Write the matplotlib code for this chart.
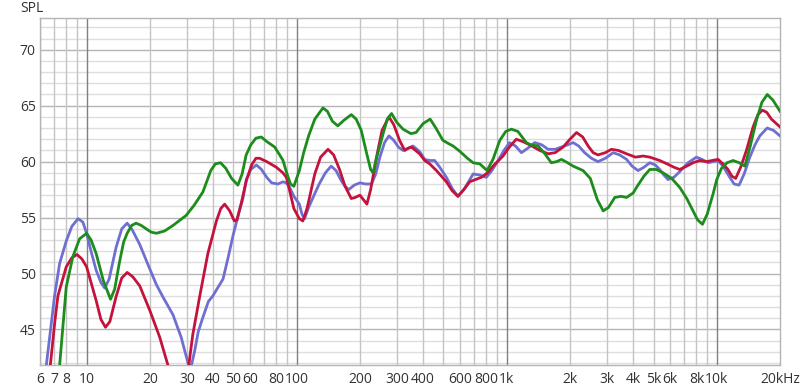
import numpy as np
import matplotlib
matplotlib.use('Agg')
import matplotlib.pyplot as plt

# frequency response (Hz, dB SPL)
blue_f = [6.0, 6.43, 7.04, 7.44, 8.0, 8.5, 9.1, 9.6, 10.0, 10.5, 11.1, 11.7, 12.2, 12.8,
          13.8, 14.7, 15.6, 16.5, 17.9, 20.0, 21.5, 23.1, 25.8, 28.2, 30.4, 31.3, 32.7,
          34.0, 35.8, 38.0, 39.9, 42.0, 44.6, 47.0, 49.8, 53.0, 55.5, 57.6, 60.5, 64.3,
          68.0, 72.0, 76.0, 81.5, 86.0, 89.3, 92.6, 97.0, 103, 106, 109, 114, 121, 128,
          137, 146, 154, 163, 170, 177, 188, 200, 213, 227, 238, 249, 262, 275, 290, 305,
          321, 340, 358, 385, 407, 430, 454, 480, 516, 550, 586, 630, 692, 745, 800, 850,
          910, 970, 1032, 1100, 1175, 1260, 1360, 1470, 1574, 1700, 1820, 1950, 2070,
          2200, 2350, 2530, 2720, 2950, 3210, 3450, 3720, 3950, 4220, 4500, 4800, 5100,
          5350, 5600, 5860, 6250, 6660, 7300, 8000, 8500, 9100, 9600, 10140, 10700,
          11530, 12100, 12770, 13500, 14370, 15200, 16030, 17370, 18600, 20000]
blue_db = [38.5, 41.8, 48.0, 50.9, 52.9, 54.2, 54.9, 54.6, 53.6, 52.0, 50.3, 49.2, 48.7, 49.5,
           52.3, 54.0, 54.5, 53.9, 52.6, 50.4, 49.0, 47.9, 46.3, 44.3, 42.0, 41.5, 43.1,
           44.8, 46.1, 47.5, 48.0, 48.7, 49.5, 51.3, 53.4, 55.4, 56.7, 58.4, 59.3, 59.7,
           59.3, 58.6, 58.1, 58.0, 58.2, 58.1, 57.7, 56.9, 56.2, 55.3, 54.9, 55.9, 57.0, 58.0,
           59.0, 59.6, 59.2, 58.3, 57.8, 57.5, 57.9, 58.1, 58.0, 58.0, 58.9, 60.4, 61.7, 62.3, 61.9, 61.3,
           61.0, 61.2, 61.4, 60.9, 60.2, 60.1, 60.1, 59.5, 58.6, 57.6, 56.9, 57.6, 58.9, 58.8, 58.6, 59.2,
           60.1, 61.0, 61.7, 61.4, 60.8, 61.2, 61.7, 61.5, 61.1, 61.1, 61.3, 61.5, 61.7,
           61.4, 60.8, 60.3, 60.0, 60.3, 60.8, 60.6, 60.2, 59.6, 59.2, 59.5, 59.9, 59.7,
           59.3, 58.8, 58.4, 58.6, 59.1, 59.9, 60.4, 60.2, 59.9, 60.0, 60.1, 59.6,
           58.6, 58.0, 57.9, 58.9, 60.4, 61.5, 62.3, 63.0, 62.8, 62.3]

red_f = [6.3, 6.72, 7.04, 7.3, 8.0, 8.5, 9.0, 9.5, 10.0, 10.5, 11.1, 11.7, 12.3, 12.9, 13.8,
         14.7, 15.6, 16.6, 17.9, 20.0, 22.3, 24.4, 27.0, 29.0, 30.5, 32.0, 34.5, 37.8, 41.5,
         43.5, 45.4, 48.0, 50.5, 52.0, 54.5, 57.6, 61.0, 64.0, 66.6, 72.0, 80.0, 86.0, 89.3,
         92.6, 97.0, 103, 107, 112, 122, 130, 141, 150, 160, 170, 182, 190, 200, 208, 216,
         225, 240, 255, 275, 290, 309, 327, 340, 352, 385, 407, 430, 463, 516, 550, 586,
         625, 667, 710, 758, 810, 861, 960, 1030, 1110, 1190, 1288, 1436, 1574, 1700, 1855,
         2000, 2150, 2300, 2440, 2580, 2720, 2950, 3150, 3400, 3720, 4100, 4460, 4800, 5350,
         5800, 6250, 6660, 7200, 7710, 8300, 8930, 9500, 10140, 10700, 11300, 11800, 12300,
         13000, 13840, 14890, 15700, 16500, 17300, 18200, 20000]
red_db = [39.0, 41.8, 45.5, 48.0, 50.6, 51.4, 51.7, 51.3, 50.6, 49.2, 47.6, 45.9, 45.2, 45.7, 47.9,
          49.6, 50.1, 49.7, 48.9, 46.7, 44.3, 41.8, 38.5, 39.5, 41.5, 44.5, 47.9, 51.8, 54.7,
          55.8, 56.2, 55.6, 54.7, 54.8, 56.3, 58.3, 59.7, 60.3, 60.3, 60.0, 59.5, 59.0, 58.6,
          57.4, 55.8, 54.9, 54.7, 55.8, 58.9, 60.4, 61.1, 60.6, 59.3, 57.8, 56.7, 56.8, 57.0, 56.6, 56.2,
          57.5, 60.4, 62.8, 64.0, 63.3, 61.9, 61.0, 61.2, 61.3, 60.7, 60.1, 59.8, 59.2, 58.2, 57.4, 56.9,
          57.5, 58.2, 58.4, 58.6, 59.0, 59.6, 60.5, 61.3, 62.0, 61.8, 61.5, 61.0, 60.7, 60.8, 61.3,
          62.0, 62.6, 62.2, 61.4, 60.8, 60.6, 60.8, 61.1, 61.0, 60.7, 60.4, 60.5, 60.4, 60.1,
          59.8, 59.5, 59.3, 59.6, 59.9, 60.1, 60.0, 60.1, 60.2, 59.8, 59.3, 58.7, 58.5,
          59.5, 61.0, 63.1, 64.2, 64.6, 64.4, 63.8, 63.1]

green_f = [7.0, 7.44, 8.0, 8.6, 9.26, 10.0, 10.5, 11.1, 12.0, 13.0, 13.6, 14.3, 15.0, 15.6,
           16.4, 17.2, 18.2, 19.2, 20.3, 21.5, 23.5, 25.8, 29.8, 32.5, 35.8, 39.0, 41.0, 43.4,
           46.0, 49.0, 52.5, 55.0, 57.5, 60.5, 64.0, 67.9, 72.0, 78.6, 83.0, 86.1, 90.0, 93.5,
           97.0, 103, 108, 114, 122, 133.5, 140, 148, 157, 168, 182, 192, 203, 215, 225, 231,
           240, 258, 270, 283, 300, 321, 350, 370, 400, 432, 460, 497, 530, 555, 600, 650,
           692, 744, 775, 806, 860, 927, 990, 1052, 1130, 1240, 1300, 1410, 1520, 1630, 1730,
           1820, 1950, 2070, 2310, 2500, 2700, 2880, 3050, 3270, 3500, 3720, 4000, 4150, 4500,
           4800, 5150, 5550, 6100, 6660, 7200, 7710, 8100, 8550, 9000, 9600, 10000, 10530,
           11200, 11960, 12800, 13600, 14400, 15450, 16400, 17400, 18500, 20000]
green_db = [37.5, 41.8, 48.8, 51.5, 53.1, 53.6, 53.0, 51.8, 49.4, 47.7, 48.6, 50.9, 52.8, 53.6,
            54.3, 54.5, 54.3, 54.0, 53.7, 53.6, 53.8, 54.3, 55.2, 56.1, 57.3, 59.2, 59.8, 59.9,
            59.4, 58.5, 57.9, 58.9, 60.6, 61.5, 62.1, 62.2, 61.8, 61.3, 60.6, 60.1, 58.9, 58.0,
            57.8, 59.2, 60.8, 62.3, 63.8, 64.8, 64.5, 63.6, 63.2, 63.7, 64.2, 63.8, 62.8, 60.8, 59.3, 59.0,
            60.3, 62.5, 63.8, 64.3, 63.5, 62.9, 62.5, 62.6, 63.4, 63.8, 63.0, 61.9, 61.6, 61.4, 60.9, 60.3,
            59.9, 59.8, 59.5, 59.2, 60.2, 61.9, 62.7, 62.9, 62.7, 61.7, 61.5, 61.4, 60.7, 59.9, 60.0,
            60.2, 59.9, 59.6, 59.2, 58.5, 56.6, 55.6, 55.9, 56.8, 56.9, 56.8, 57.2, 57.7, 58.7,
            59.3, 59.3, 59.0, 58.5, 57.7, 56.7, 55.6, 54.8, 54.4, 55.3, 57.1, 58.4, 59.4,
            59.9, 60.1, 59.9, 59.6, 61.3, 63.7, 65.3, 66.0, 65.5, 64.5]

x_ticks = [6, 7, 8, 10, 20, 30, 40, 50, 60, 80, 100, 200, 300, 400, 600, 800,
           1000, 2000, 3000, 4000, 5000, 6000, 8000, 10000, 20000]
x_labels = ['6', '7', '8', '10', '20', '30', '40', '50', '60', '80', '100', '200', '300',
            '400', '600', '800', '1k', '2k', '3k', '4k', '5k', '6k', '8k', '10k', '20kHz']
y_ticks = [45, 50, 55, 60, 65, 70]

plt.rcParams['font.family'] = ['Open Sans', 'DejaVu Sans']

fig = plt.figure(figsize=(8, 3.91), dpi=100)
ax = fig.add_axes([0.05, 0.0657, 0.925, 0.8873])
ax.set_xscale('log')
ax.set_xlim(6, 20000)
ax.set_ylim(41.8, 72.8)

# grid: 1 dB horizontal, 5 dB a bit darker
for v in range(42, 73):
    ax.axhline(v, color='#b4b4b4' if v % 5 == 0 else '#dedede', lw=1, zorder=1)
# vertical lines per decade, decades darker, none above 10k
for dec in [1, 10, 100, 1000]:
    for m in range(2, 10):
        f = m * dec
        if f < 6:
            continue
        ax.axvline(f, color='#c4c4c4', lw=1, zorder=1)
for f in [10, 100, 1000, 10000]:
    ax.axvline(f, color='#808080', lw=1, zorder=1)

ax.plot(blue_f, blue_db, color='#6f6fd2', lw=2, zorder=3)
ax.plot(red_f, red_db, color='#c4123c', lw=2, zorder=3)
ax.plot(green_f, green_db, color='#1c8c1c', lw=2, zorder=3)

ax.set_xticks(x_ticks)
ax.set_xticklabels(x_labels)
ax.xaxis.set_minor_locator(matplotlib.ticker.NullLocator())
ax.set_yticks(y_ticks)
ax.tick_params(length=0, labelsize=10, labelcolor='#333333', pad=5)
ax.tick_params(axis='y', pad=3)

for s in ax.spines.values():
    s.set_color('#b4b4b4')
    s.set_linewidth(1)

fig.text(0.025, 0.978, 'SPL', fontsize=10, color='#333333', va='center', ha='left')

plt.savefig('out.png', dpi=100)
